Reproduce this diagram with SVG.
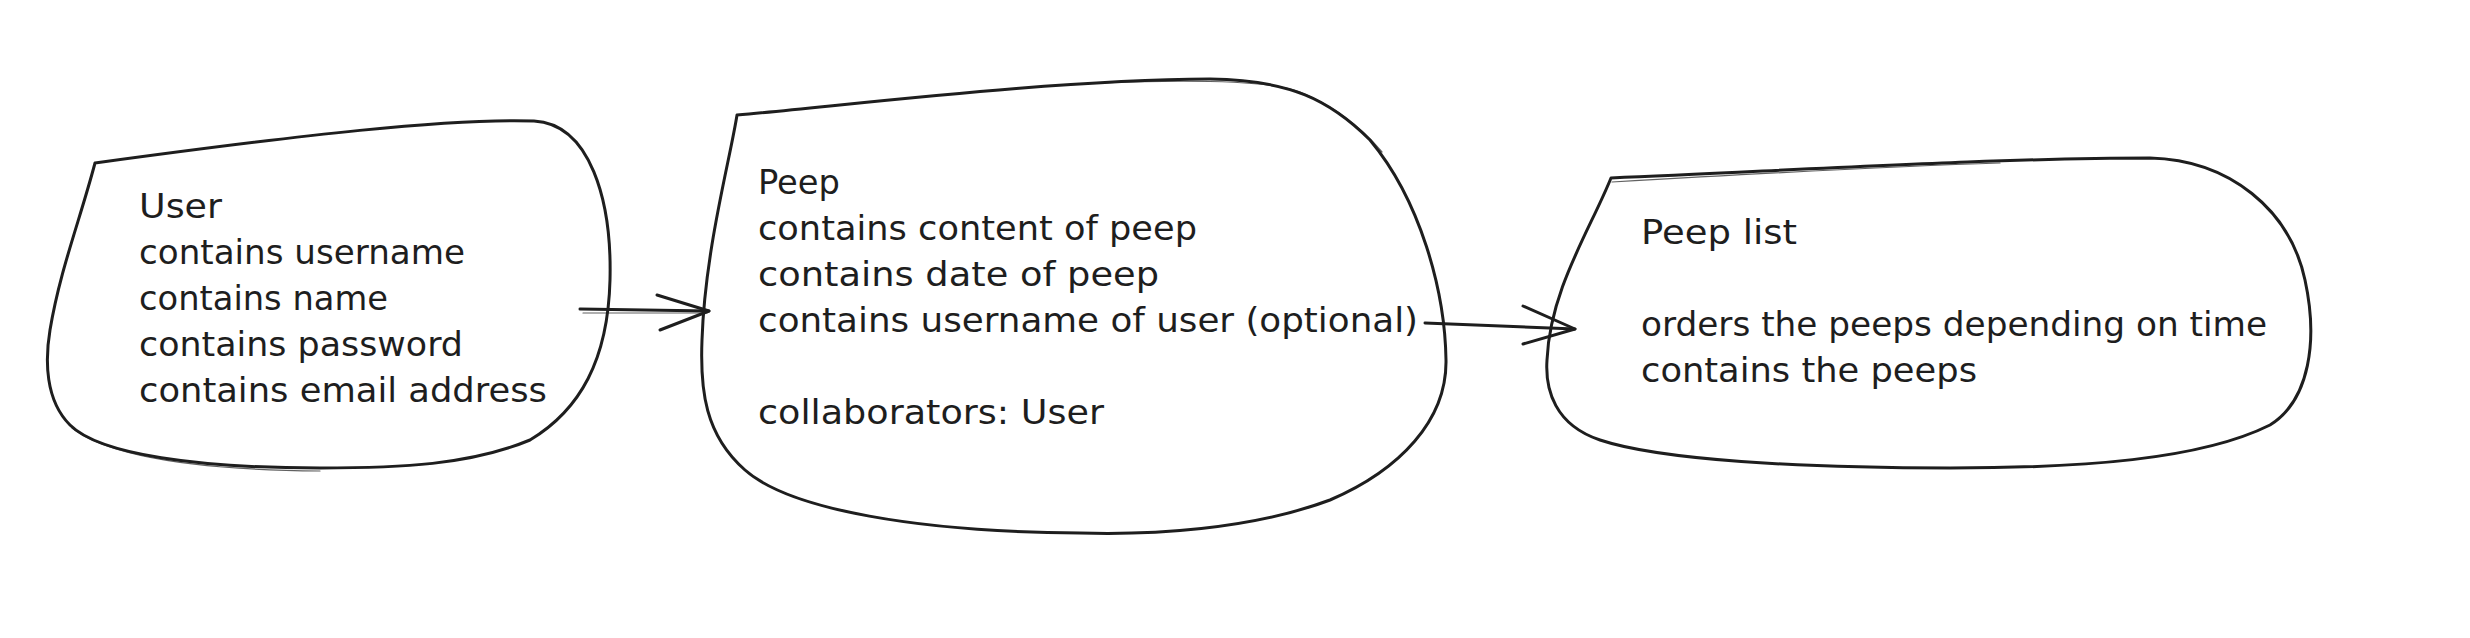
<svg xmlns="http://www.w3.org/2000/svg" width="2470" height="638" viewBox="0 0 2470 638">
<style>
.shape{fill:none;stroke:#1e1e1e;stroke-width:3;stroke-linecap:round;stroke-linejoin:round}
.sk{fill:none;stroke:#1e1e1e;stroke-width:1.2;stroke-linecap:round;opacity:0.7}
.conn{fill:none;stroke:#1e1e1e;stroke-width:3;stroke-linecap:round;stroke-linejoin:round}
text{font-family:"DejaVu Sans","Liberation Sans",sans-serif;font-size:34px;fill:#1e1e1e}
</style>
<rect width="2470" height="638" fill="#ffffff"/>
<g id="node-user">
<path class="shape" d="M 95 163 C 300 135, 450 118, 534 121 C 590 124, 612 200, 610 280 C 608 360, 580 410, 530 440 C 470 465, 400 468, 320 468 C 200 468, 100 455, 70 425 C 45 400, 45 360, 50 330 C 60 270, 80 220, 95 163 Z"/>
<path class="sk" d="M 72 428 C 110 457, 200 470, 320 471"/>
<text x="139" y="218" textLength="83" lengthAdjust="spacingAndGlyphs">User</text>
<text x="139" y="264" textLength="326" lengthAdjust="spacingAndGlyphs">contains username</text>
<text x="139" y="310" textLength="249" lengthAdjust="spacingAndGlyphs">contains name</text>
<text x="139" y="356" textLength="324" lengthAdjust="spacingAndGlyphs">contains password</text>
<text x="139" y="402" textLength="408" lengthAdjust="spacingAndGlyphs">contains email address</text>
</g>
<g id="node-peep">
<path class="shape" d="M 737 115 C 850 105, 1050 80, 1210 79 C 1290 80, 1330 100, 1370 140 C 1420 200, 1445 290, 1446 360 C 1447 420, 1400 470, 1330 500 C 1250 530, 1150 535, 1080 533 C 920 532, 790 510, 745 470 C 705 435, 700 390, 702 340 C 705 250, 730 160, 737 115 Z"/>
<path class="sk" d="M 1100 83 C 1180 80, 1270 80, 1300 92 C 1330 104, 1360 125, 1382 152"/>
<text x="758" y="194" textLength="82" lengthAdjust="spacingAndGlyphs">Peep</text>
<text x="758" y="240" textLength="439" lengthAdjust="spacingAndGlyphs">contains content of peep</text>
<text x="758" y="286" textLength="401" lengthAdjust="spacingAndGlyphs">contains date of peep</text>
<text x="758" y="332" textLength="660" lengthAdjust="spacingAndGlyphs">contains username of user (optional)</text>
<text x="758" y="424" textLength="346" lengthAdjust="spacingAndGlyphs">collaborators: User</text>
</g>
<g id="node-peep-list">
<path class="shape" d="M 1611 178 C 1800 170, 2000 158, 2150 158 C 2230 160, 2290 210, 2305 280 C 2318 340, 2310 400, 2270 425 C 2200 460, 2080 468, 1950 468 C 1800 468, 1660 460, 1600 440 C 1555 425, 1545 390, 1547 360 C 1550 290, 1590 230, 1611 178 Z"/>
<path class="sk" d="M 1612 182 C 1750 174, 1900 166, 2000 163"/>
<text x="1641" y="244" textLength="156" lengthAdjust="spacingAndGlyphs">Peep list</text>
<text x="1641" y="336" textLength="626" lengthAdjust="spacingAndGlyphs">orders the peeps depending on time</text>
<text x="1641" y="382" textLength="336" lengthAdjust="spacingAndGlyphs">contains the peeps</text>
</g>
<g id="connectors">
<path class="conn" d="M 580 309 L 709 311"/>
<path class="sk" d="M 583 313 L 707 313"/>
<path class="conn" d="M 657 295 L 709 311 L 660 330"/>
<path class="conn" d="M 1425 323 L 1575 329"/>
<path class="conn" d="M 1523 306 L 1575 329 L 1523 344"/>
</g>
</svg>
